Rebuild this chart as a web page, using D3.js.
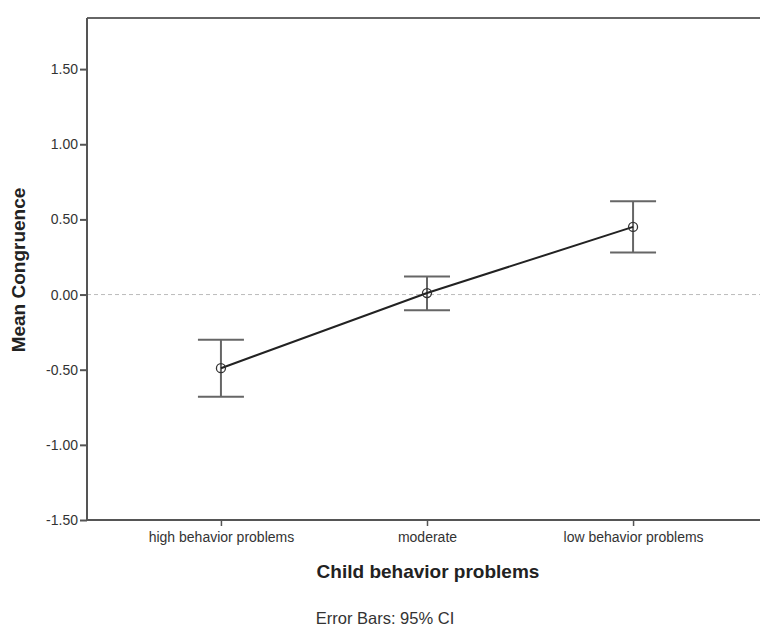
<!DOCTYPE html>
<html>
<head>
<meta charset="utf-8">
<script src="https://cdn.jsdelivr.net/npm/d3@7"></script>
<style>
  body { margin: 0; background: #fff; }
  svg { display: block; font-family: "Liberation Sans", Arial, sans-serif; }
  .tick text { fill: #333; }
</style>
</head>
<body>
<div id="chart"></div>
<script>
// means and 95% CI per group
const categories = ['high behavior problems', 'moderate', 'low behavior problems'];
const means = [-0.49, 0.01, 0.45];
const ciLow = [-0.68, -0.105, 0.28];
const ciHigh = [-0.30, 0.12, 0.62];
const yTicks = [-1.5, -1.0, -0.5, 0, 0.5, 1.0, 1.5];

const width = 760, height = 627;
const m = { top: 18, right: -7, bottom: 107, left: 87 };
const iw = width - m.left - m.right;
const ih = height - m.top - m.bottom;

// plain hyphen for negatives, like the original
const fmt2 = d3.formatLocale({ decimal: '.', thousands: ',', grouping: [3], currency: ['$', ''], minus: '-' }).format('.2f');

const svg = d3.select('#chart').append('svg')
  .attr('width', width).attr('height', height);
const g = svg.append('g').attr('transform', `translate(${m.left},${m.top})`);

const x = d3.scalePoint().domain(categories).range([0, iw]).padding(0.65);
const y = d3.scaleLinear().domain([-1.5, 1.84]).range([ih, 0]);

const rows = categories.map((c, i) => ({ c, mean: means[i], lo: ciLow[i], hi: ciHigh[i] }));

// zero reference line
g.append('line')
  .attr('x1', 0).attr('x2', iw)
  .attr('y1', y(0)).attr('y2', y(0))
  .attr('stroke', '#bbb').attr('stroke-dasharray', '4 3').attr('stroke-width', 1);

// frame top
g.append('line').attr('x1', 0).attr('x2', iw).attr('y1', 0).attr('y2', 0)
  .attr('stroke', '#666').attr('stroke-width', 2);

g.append('g')
  .call(d3.axisLeft(y).tickValues(yTicks).tickFormat(fmt2).tickSize(7).tickPadding(2))
  .call(a => a.select('.domain').attr('stroke', '#555').attr('stroke-width', 2).attr('d', `M0,0V${ih}`))
  .call(a => a.selectAll('.tick line').attr('stroke', '#555').attr('stroke-width', 2))
  .call(a => a.selectAll('.tick text').attr('font-size', 14));

g.append('g').attr('transform', `translate(0,${ih})`)
  .call(d3.axisBottom(x).tickSize(6).tickPadding(6))
  .call(a => a.select('.domain').attr('stroke', '#555').attr('stroke-width', 2).attr('d', `M0,0H${iw}`))
  .call(a => a.selectAll('.tick line').attr('stroke', '#555').attr('stroke-width', 1.5))
  .call(a => a.selectAll('.tick text').attr('font-size', 14));

// error bars
const eb = g.append('g').selectAll('g').data(rows).join('g')
  .attr('stroke', '#666').attr('stroke-width', 2);
eb.append('line')
  .attr('x1', d => x(d.c)).attr('x2', d => x(d.c))
  .attr('y1', d => y(d.lo)).attr('y2', d => y(d.hi));
eb.append('line')
  .attr('x1', d => x(d.c) - 23).attr('x2', d => x(d.c) + 23)
  .attr('y1', d => y(d.lo)).attr('y2', d => y(d.lo));
eb.append('line')
  .attr('x1', d => x(d.c) - 23).attr('x2', d => x(d.c) + 23)
  .attr('y1', d => y(d.hi)).attr('y2', d => y(d.hi));

// mean line
const line = d3.line().x(d => x(d.c)).y(d => y(d.mean));
g.append('path').attr('d', line(rows))
  .attr('fill', 'none').attr('stroke', '#222').attr('stroke-width', 2);

g.append('g').selectAll('circle').data(rows).join('circle')
  .attr('cx', d => x(d.c)).attr('cy', d => y(d.mean)).attr('r', 4.5)
  .attr('fill', 'none').attr('stroke', '#333').attr('stroke-width', 1.3);

// titles
svg.append('text')
  .attr('transform', 'translate(25,270) rotate(-90)')
  .attr('text-anchor', 'middle')
  .attr('font-size', 19).attr('font-weight', 'bold').attr('fill', '#222')
  .text('Mean Congruence');

svg.append('text')
  .attr('x', 428).attr('y', 578)
  .attr('text-anchor', 'middle')
  .attr('font-size', 19).attr('font-weight', 'bold').attr('fill', '#222')
  .text('Child behavior problems');

svg.append('text')
  .attr('x', 385).attr('y', 624)
  .attr('text-anchor', 'middle')
  .attr('font-size', 16.5).attr('fill', '#333')
  .text('Error Bars: 95% CI');
</script>
</body>
</html>
